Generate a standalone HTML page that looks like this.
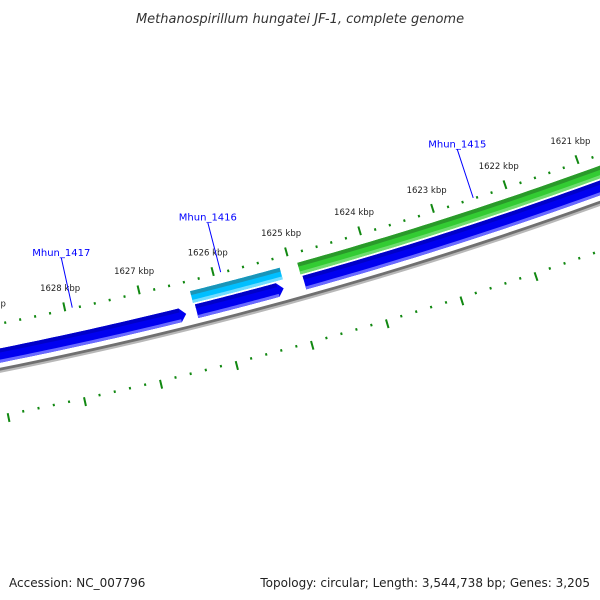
<!DOCTYPE html>
<html><head><meta charset="utf-8"><style>
html,body{margin:0;padding:0;background:#fff;}
svg{display:block;}
</style></head><body>
<svg id="map" width="600" height="600" viewBox="0 0 600 600" xmlns="http://www.w3.org/2000/svg">
<rect width="600" height="600" fill="#fff"/>
<text x="300" y="23" text-anchor="middle" font-family="DejaVu Sans, sans-serif" font-style="italic" font-size="13" fill="#333">Methanospirillum hungatei JF-1, complete genome</text>
<text x="9" y="587" font-family="DejaVu Sans, sans-serif" font-size="12" fill="#222">Accession: NC_007796</text>
<text x="590" y="587" text-anchor="end" font-family="DejaVu Sans, sans-serif" font-size="12" fill="#222">Topology: circular; Length: 3,544,738 bp; Genes: 3,205</text>
<g id="plot"></g>
</svg>
<script>
// Data (kbp)
const majorTicks = [1620,1621,1622,1623,1624,1625,1626,1627,1628,1629,1630];
const tickLabels = ["1620 kbp","1621 kbp","1622 kbp","1623 kbp","1624 kbp","1625 kbp","1626 kbp","1627 kbp","1628 kbp","1629 kbp","1630 kbp"];
const featNames = ["Mhun_1417","Mhun_1416r","Mhun_1415r","Mhun_1416","Mhun_1415"];
const featStart = [1626.47,1625.16,1620.0,1625.14,1620.0];
const featEnd   = [1630.5,1626.33,1624.88,1626.35,1624.90];
const featStrand = [-1,-1,-1,1,1];
const featType = ["blue","blue","blue","cyan","green"];
const labelNames = ["Mhun_1417","Mhun_1416","Mhun_1415"];
const labelKbp = [1627.9,1625.9,1622.45];

// Axis (polar) functions
const CX=-817, CY=-3727, R=4177.5, K0=1625, PHI0=0.2705, DPHI=0.01847;
function phi(k){return PHI0-DPHI*(k-K0);}
function pt(r,k){const p=phi(k);return [CX+r*Math.sin(p), CY+r*Math.cos(p)];}
const NS="http://www.w3.org/2000/svg";
const g=document.getElementById('plot');
function mk(tag,attrs){const e=document.createElementNS(NS,tag);for(const a in attrs)e.setAttribute(a,attrs[a]);g.appendChild(e);return e;}
function sectorPts(r1,r2,k1,k2){
  const n=40,pts=[];
  for(let i=0;i<=n;i++)pts.push(pt(r1,k1+(k2-k1)*i/n));
  for(let i=n;i>=0;i--)pts.push(pt(r2,k1+(k2-k1)*i/n));
  return pts;
}
function toPath(pts){return 'M'+pts.map(p=>p[0].toFixed(2)+','+p[1].toFixed(2)).join('L')+'Z';}

// backbone
let e=mk('path',{d:toPath(sectorPts(R-0.5,R+3,1619,1632)),fill:'#b8b8b8'});


e=mk('path',{d:toPath(sectorPts(R-2,R+0.8,1619,1632)),fill:'#707070'});



// ticks
for(let k=1619;k<=1631.001;k+=0.2){
  const kk=Math.round(k*10)/10;
  const major=Math.abs(kk-Math.round(kk))<0.01;
  const len=major?9:2.5;
  [[-44,-1],[44,1]].forEach(([off,dir])=>{
    const a=pt(R+off,kk),b=pt(R+off+dir*len,kk);
    const t=mk('line',{x1:a[0],y1:a[1],x2:b[0],y2:b[1],stroke:'#118811','stroke-width':2});
    
    
  });
}
majorTicks.forEach((k,i)=>{
  const p=pt(R-68,k);
  const t=mk('text',{x:p[0],y:p[1]+3,'text-anchor':'middle','font-family':'DejaVu Sans, sans-serif','font-size':'8.5',fill:'#222'});
  t.textContent=tickLabels[i];
  
  
});

// features
const colors={blue:['#0000c8','#0000f0','#6a6aff'],cyan:['#1a95b8','#00bfff','#70dcff'],green:['#2a9a2a','#33cc33','#70dd70']};
featStart.forEach((s,i)=>{
  const en=featEnd[i], c=colors[featType[i]];
  const rev=featStrand[i]<0;
  const r1=rev?R-21:R-35, r2=rev?R-7:R-23;
  let pts;
  if(featType[i]==='blue'){
    const head=0.08;
    const n=40;pts=[];
    for(let j=0;j<=n;j++)pts.push(pt(r1,en+(s+head-en)*j/n));
    pts.push(pt((r1+r2)/2,s));
    for(let j=n;j>=0;j--)pts.push(pt(r2,en+(s+head-en)*j/n));
  } else pts=sectorPts(r1,r2,s,en);
  const m=mk('path',{d:toPath(pts),fill:c[1]});
  
  
  const hs=featType[i]==='blue'?s+0.08:s;
  const top=mk('path',{d:toPath(sectorPts(r1,r1+4,hs,en)),fill:c[0]});
  
  
  const bot=mk('path',{d:toPath(sectorPts(r2-3,r2,hs,en)),fill:c[2]});
  
  
});

// gene labels
labelNames.forEach((nm,i)=>{
  const a=pt(R-46,labelKbp[i]),b=pt(R-97,labelKbp[i]);
  const l=mk('line',{x1:a[0],y1:a[1],x2:b[0],y2:b[1],stroke:'#0000ff','stroke-width':1});
  
  
  const t=mk('text',{x:b[0],y:b[1]-2,'text-anchor':'middle','font-family':'DejaVu Sans, sans-serif','font-size':'10',fill:'#0000ff'});
  t.textContent=nm;
  
  
});
</script>
</body></html>
